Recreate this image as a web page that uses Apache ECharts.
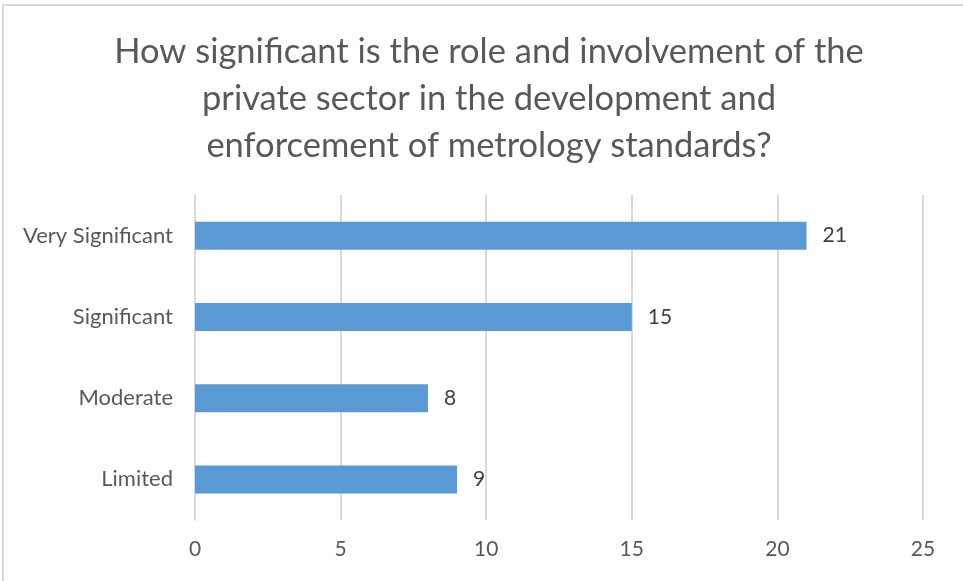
<!DOCTYPE html>
<html>
<head>
<meta charset="utf-8">
<script src="https://cdn.jsdelivr.net/npm/echarts@6/dist/echarts.min.js"></script>
<style>
  html, body { margin: 0; padding: 0; background: #fff; }
  #chart { width: 963px; height: 581px; }
</style>
</head>
<body>
<div id="chart"></div>
<script>
// Survey responses: significance of the private sector's role in metrology standards
const categories = ['Limited', 'Moderate', 'Significant', 'Very Significant'];
const responses = [9, 8, 15, 21];
const xTicks = { min: 0, max: 25, interval: 5 };
const titleText = 'How significant is the role and involvement of the\nprivate sector in the development and\nenforcement of metrology standards?';

const FONT = 'Lato, "Open Sans", sans-serif';

const chart = echarts.init(document.getElementById('chart'), null, { renderer: 'canvas' });
chart.setOption({
  animation: false,
  backgroundColor: '#ffffff',
  graphic: [{
    type: 'rect',
    shape: { x: 3, y: 5, width: 1000, height: 640 },
    style: { fill: 'none', stroke: '#d9d9d9', lineWidth: 2 },
    silent: true,
    z: -1
  }],
  title: {
    text: titleText,
    left: 484,
    textAlign: 'center',
    top: 23,
    textStyle: {
      fontFamily: FONT,
      fontSize: 34.5,
      fontWeight: 'normal',
      color: '#595959',
      lineHeight: 47
    }
  },
  grid: { left: 195, right: 40, top: 195, bottom: 61, containLabel: false },
  xAxis: {
    type: 'value',
    min: xTicks.min,
    max: xTicks.max,
    interval: xTicks.interval,
    axisLine: { show: false },
    axisTick: { show: false },
    splitLine: { show: true, lineStyle: { color: '#d9d9d9', width: 2 } },
    axisLabel: { fontFamily: FONT, fontSize: 21, color: '#595959', margin: 19 }
  },
  yAxis: {
    type: 'category',
    data: categories,
    axisLine: { show: true, lineStyle: { color: '#d9d9d9', width: 2 } },
    axisTick: { show: false },
    axisLabel: { fontFamily: FONT, fontSize: 22, color: '#595959', margin: 22 }
  },
  series: [{
    type: 'bar',
    data: responses,
    barWidth: 28,
    itemStyle: { color: '#5b9bd5' },
    label: {
      show: true,
      position: 'right',
      distance: 16,
      fontFamily: FONT,
      fontSize: 21,
      color: '#404040'
    }
  }]
});
</script>
</body>
</html>
